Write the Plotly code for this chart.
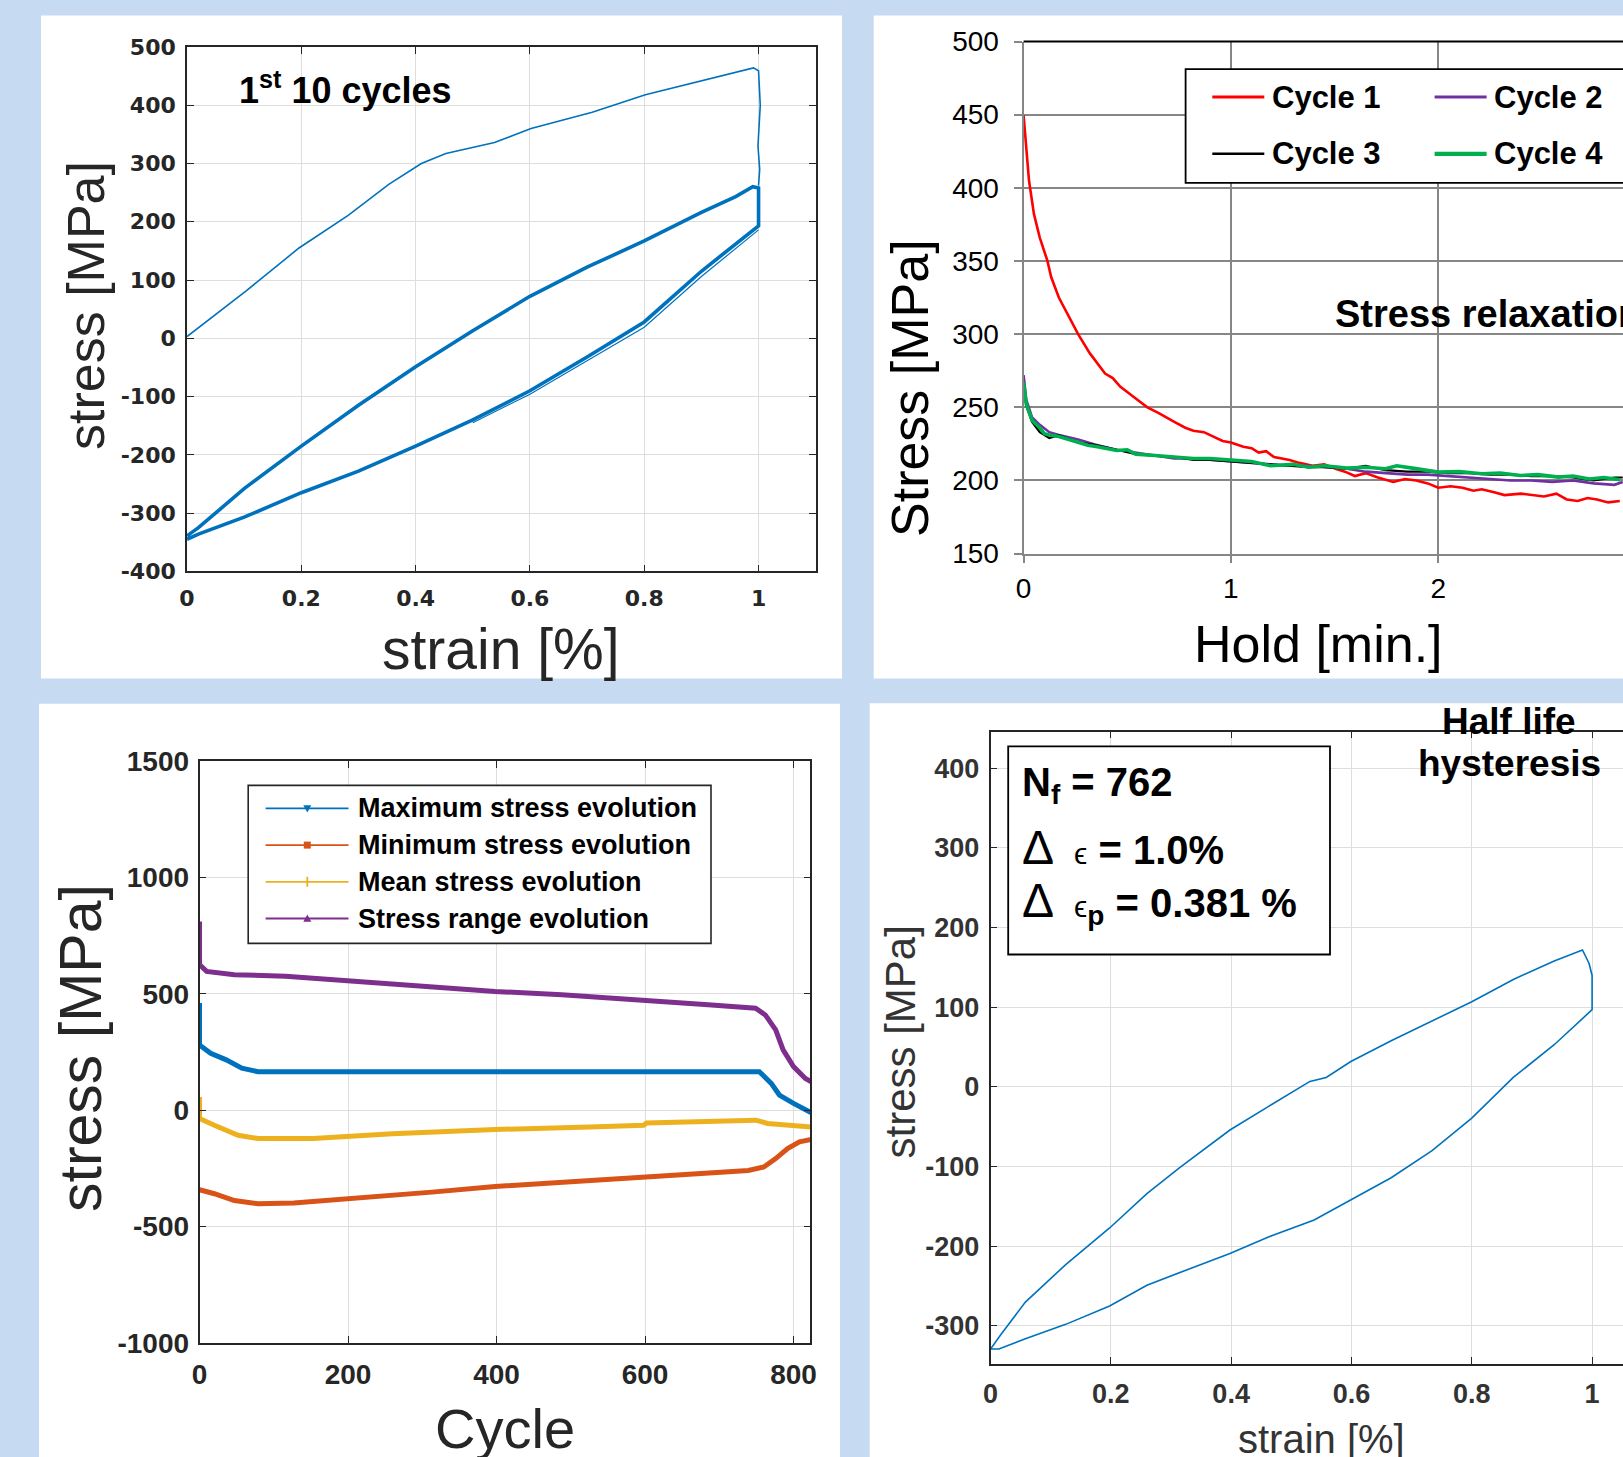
import plotly.graph_objects as go

W, H = 1623, 1457
BG = "#C6DBF2"
ARIAL = "Liberation Sans, Arial, sans-serif"
DEJAVU = "DejaVu Sans, sans-serif"

# ---------------- data ----------------
# Top-left: first 10 cycles (strain %, stress MPa)
tl_init_strain = [0, 0.068, 0.103, 0.196, 0.282, 0.353, 0.41, 0.453, 0.538, 0.602, 0.709, 0.802, 0.88, 0.959, 0.991, 1.0, 1.003, 0.999, 1.002, 1.0]
tl_init_stress = [3, 54, 81, 155, 211, 264, 300, 317, 336, 360, 388, 418, 437, 456, 464, 459, 400, 330, 290, 262]
tl_loop_strain = [0, 0.02, 0.1, 0.2, 0.3, 0.4, 0.5, 0.6, 0.7, 0.8, 0.9, 0.96, 0.99, 1.0, 1.0, 1.0, 0.9, 0.8, 0.7, 0.6, 0.5, 0.4, 0.3, 0.2, 0.1, 0.02, 0]
tl_loop_stress = [-339, -325, -258, -185, -115, -49, 13, 72, 122, 167, 216, 243, 260, 258, 225, 193, 115, 28, -32, -90, -140, -185, -228, -265, -307, -336, -345]
tl_strand_strain = [1.0, 0.9, 0.8, 0.7, 0.6, 0.5]
tl_strand_stress = [186, 106, 19, -39, -96, -145]

# Top-right: stress relaxation during hold (min, MPa)
tr_t1 = [0, 0.013, 0.026, 0.05, 0.078, 0.115, 0.133, 0.17, 0.217, 0.263, 0.319, 0.393, 0.43, 0.467, 0.541, 0.597, 0.652, 0.7, 0.727, 0.78, 0.819, 0.87, 0.912, 0.96, 1.0, 1.06, 1.1, 1.134, 1.17, 1.208, 1.283, 1.33, 1.394, 1.45, 1.505, 1.55, 1.598, 1.65, 1.709, 1.783, 1.84, 1.894, 1.95, 2.0, 2.06, 2.117, 2.17, 2.21, 2.27, 2.32, 2.4, 2.45, 2.51, 2.57, 2.62, 2.673, 2.72, 2.766, 2.82, 2.876]
tr_s1 = [449.5, 425.6, 405, 382, 366, 350, 339, 325, 312, 300, 287, 273, 270, 264, 256, 250, 246, 242, 240, 236, 234, 233, 230, 227, 226, 223, 222, 219, 220, 216, 214, 212, 210, 211, 208, 206, 203, 205, 202, 199, 201, 200, 198, 195, 196, 195, 193, 194, 192, 190, 191, 190, 189, 191, 187, 186, 188, 187, 185, 186]
tr_t2 = [0, 0.013, 0.041, 0.078, 0.124, 0.17, 0.263, 0.356, 0.449, 0.541, 0.634, 0.727, 0.819, 0.9, 1.0, 1.1, 1.19, 1.3, 1.375, 1.45, 1.56, 1.65, 1.746, 1.85, 1.95, 2.05, 2.15, 2.25, 2.35, 2.45, 2.55, 2.65, 2.75, 2.85, 2.89]
tr_s2 = [272, 255, 243, 238, 233, 231, 228, 224, 221, 219, 217, 215, 215, 214, 213, 212, 211, 210, 210, 209, 208, 206, 205, 204, 204, 203, 202, 201, 200, 200, 199, 200, 198, 197, 199]
tr_t3 = [0, 0.013, 0.041, 0.078, 0.124, 0.17, 0.263, 0.356, 0.449, 0.541, 0.634, 0.727, 0.819, 0.9, 1.0, 1.1, 1.19, 1.3, 1.375, 1.45, 1.56, 1.65, 1.746, 1.85, 1.95, 2.05, 2.15, 2.25, 2.35, 2.45, 2.55, 2.65, 2.75, 2.85, 2.89]
tr_s3 = [264, 251, 240, 233, 229, 231, 226, 224, 221, 218, 217, 216, 214, 214, 213, 212, 211, 210, 209, 209, 208, 210, 207, 206, 206, 205, 205, 204, 204, 203, 203, 202, 200, 202, 202]
tr_t4 = [0, 0.013, 0.041, 0.078, 0.1, 0.124, 0.17, 0.22, 0.263, 0.31, 0.356, 0.4, 0.449, 0.5, 0.541, 0.634, 0.727, 0.819, 0.9, 1.0, 1.1, 1.19, 1.3, 1.375, 1.45, 1.56, 1.65, 1.746, 1.8, 1.876, 1.95, 2.0, 2.1, 2.21, 2.3, 2.396, 2.48, 2.58, 2.65, 2.73, 2.8, 2.877]
tr_s4 = [267, 252, 241, 236, 232, 231, 230, 228, 226, 224, 223, 222, 220.5, 221, 218, 217, 216, 215, 215, 214, 213, 210, 211, 209, 210, 208.4, 209, 208, 210, 208.4, 207, 205.7, 206, 204.6, 205, 203.4, 204, 202.3, 203, 201, 202, 200.5]

# Bottom-left: stress evolution vs cycle
bl_cyc_max = [0, 0, 15, 36, 57, 79, 200, 400, 600, 754, 770, 781, 800, 816, 824]
bl_max = [460, 280, 244, 216, 180, 165, 165, 166, 165, 165, 115, 65, 29, 0, -11]
bl_cyc_min = [0, 20, 47, 79, 127, 206, 313, 398, 526, 600, 685, 739, 760, 776, 792, 808, 824]
bl_min = [-342, -359, -388, -402, -399, -381, -352, -328, -302, -287, -273, -259, -244, -208, -165, -136, -126]
bl_cyc_mean = [0, 0, 20, 52, 79, 153, 260, 398, 526, 598, 602, 712, 749, 765, 824]
bl_mean = [57, -36, -65, -108, -122, -122, -101, -83, -72, -65, -55, -46, -43, -57, -72]
bl_cyc_range = [0, 0, 9.6, 47, 116, 206, 313, 398, 488, 600, 685, 749, 762, 776, 786, 800, 816, 824]
bl_range = [810, 625, 596, 582, 575, 553, 532, 510, 496, 474, 453, 438, 409, 345, 259, 187, 136, 122]
bl_names = ["Maximum stress evolution", "Minimum stress evolution", "Mean stress evolution", "Stress range evolution"]

# Bottom-right: half life hysteresis
br_strain = [0, 0.017, 0.058, 0.125, 0.198, 0.26, 0.315, 0.398, 0.463, 0.531, 0.558, 0.599, 0.666, 0.734, 0.8, 0.869, 0.937, 0.984, 0.995, 1.0, 1.0,
             0.937, 0.869, 0.8, 0.734, 0.666, 0.599, 0.538, 0.463, 0.398, 0.328, 0.26, 0.198, 0.125, 0.058, 0.014, 0]
br_stress = [-329, -311, -270, -223, -177, -134, -101, -54, -24, 7, 12, 32, 58, 83, 107, 135, 158, 172, 155, 140, 97,
             53, 12, -39, -80, -114, -142, -167, -188, -209, -229, -249, -275, -298, -316, -329, -329]

# tick values / labels
tl_xticks = [0, 0.2, 0.4, 0.6, 0.8, 1]
tl_xlabels = ["0", "0.2", "0.4", "0.6", "0.8", "1"]
tl_yticks = [-400, -300, -200, -100, 0, 100, 200, 300, 400, 500]
tl_ylabels = ["-400", "-300", "-200", "-100", "0", "100", "200", "300", "400", "500"]
bl_xticks = [0, 200, 400, 600, 800]
bl_yticks = [-1000, -500, 0, 500, 1000, 1500]
bl_ylabels = ["-1000", "-500", "0", "500", "1000", "1500"]
br_xticks = [0, 0.2, 0.4, 0.6, 0.8, 1]
br_xlabels = ["0", "0.2", "0.4", "0.6", "0.8", "1"]
br_yticks = [-300, -200, -100, 0, 100, 200, 300, 400]
br_ylabels = ["-300", "-200", "-100", "0", "100", "200", "300", "400"]

# ---------------- helpers ----------------
def px(x):
    return x / W

def py(y):
    return 1 - y / H

fig = go.Figure()
BLUE = "#0072BD"

fig.add_trace(go.Scatter(x=tl_init_strain, y=tl_init_stress, mode="lines", line=dict(color=BLUE, width=1.6), xaxis="x", yaxis="y", showlegend=False))
fig.add_trace(go.Scatter(x=tl_loop_strain, y=tl_loop_stress, mode="lines", line=dict(color=BLUE, width=3.6), xaxis="x", yaxis="y", showlegend=False))
fig.add_trace(go.Scatter(x=tl_strand_strain, y=tl_strand_stress, mode="lines", line=dict(color=BLUE, width=1.2), xaxis="x", yaxis="y", showlegend=False))

tr_series = [(tr_t1, tr_s1, "Cycle 1", "#FF0000", 2.6), (tr_t2, tr_s2, "Cycle 2", "#7030A0", 2.6),
             (tr_t3, tr_s3, "Cycle 3", "#000000", 2.2), (tr_t4, tr_s4, "Cycle 4", "#00B050", 3.6)]
for t, s, n, c, w in tr_series:
    fig.add_trace(go.Scatter(x=t, y=s, mode="lines", name=n, line=dict(color=c, width=w), xaxis="x2", yaxis="y2", showlegend=False))

bl_series = [(bl_cyc_max, bl_max, "#0072BD"), (bl_cyc_min, bl_min, "#D95319"),
             (bl_cyc_mean, bl_mean, "#EDB120"), (bl_cyc_range, bl_range, "#7E2F8E")]
for (cx, cy, c), n in zip(bl_series, bl_names):
    fig.add_trace(go.Scatter(x=cx, y=cy, mode="lines", name=n, line=dict(color=c, width=5), xaxis="x3", yaxis="y3", showlegend=False))

fig.add_trace(go.Scatter(x=br_strain, y=br_stress, mode="lines", line=dict(color=BLUE, width=1.6), xaxis="x4", yaxis="y4", showlegend=False))

# ---------------- axes ----------------
ML = "#262626"
GRID = "#DEDEDE"

def matlab_axis(font_family, size, color, standoff, mirror="ticks"):
    return dict(showline=True, linecolor=ML, linewidth=1.6, mirror=mirror, ticks="inside", ticklen=7,
                tickcolor=ML, tickwidth=1.2, showgrid=True, gridcolor=GRID, gridwidth=1.3, zeroline=False,
                tickfont=dict(family=font_family, size=size, color=color, weight="bold"),
                ticklabelstandoff=standoff, fixedrange=True, automargin=False, tickmode="array")

xa1 = matlab_axis(DEJAVU, 22, ML, 6)
xa1.update(domain=[px(187), px(815.7)], range=[0, 1.1], tickvals=tl_xticks, ticktext=tl_xlabels, anchor="y")
ya1 = matlab_axis(DEJAVU, 22, ML, 5)
ya1.update(domain=[py(571.4), py(46.9)], range=[-400, 500], tickvals=tl_yticks, ticktext=tl_ylabels, anchor="x")

GR = "#868686"
xa2 = dict(domain=[px(1023.6), 1], range=[0, (W - 1023.6) / 207.3], dtick=1, tick0=0, anchor="y2",
           showline=True, linecolor=GR, linewidth=2.2, ticks="outside", ticklen=7, tickcolor=GR, tickwidth=2,
           showgrid=True, gridcolor=GR, gridwidth=1.8, zeroline=False, automargin=False,
           tickfont=dict(family=ARIAL, size=28, color="#000000"), ticklabelstandoff=2, fixedrange=True)
ya2 = dict(domain=[py(553.6), py(41.5)], range=[150, 500], dtick=50, tick0=0, anchor="x2",
           showline=True, linecolor=GR, linewidth=2.2, ticks="outside", ticklen=8, tickcolor=GR, tickwidth=2,
           showgrid=True, gridcolor=GR, gridwidth=1.8, zeroline=False, automargin=False,
           tickfont=dict(family=ARIAL, size=28, color="#000000"), ticklabelstandoff=9, fixedrange=True)

xa3 = matlab_axis(ARIAL, 28, ML, 6)
xa3.update(domain=[px(199.5), px(810.3)], range=[0, 822.6], tickvals=bl_xticks, anchor="y3")
ya3 = matlab_axis(ARIAL, 28, ML, 3)
ya3.update(domain=[py(1343), py(760.9)], range=[-1000, 1500], tickvals=bl_yticks, ticktext=bl_ylabels, anchor="x3")

xa4 = matlab_axis(ARIAL, 27, "#333333", 5)
xa4.update(domain=[px(990.5), 1], range=[0, (W - 990.5) / 601.6], tickvals=br_xticks, ticktext=br_xlabels, anchor="y4")
ya4 = matlab_axis(ARIAL, 27, "#333333", 4, mirror=False)
ya4.update(domain=[py(1364.2), py(731.6)], range=[-348, 446.1], tickvals=br_yticks, ticktext=br_ylabels, anchor="x4")

# ---------------- shapes ----------------
shapes = []
for x0, y0, x1, y1 in [(41, 15.6, 842, 678.6), (873.7, 15.6, W, 678.6), (39, 703.7, 840, H), (869.7, 703.2, W, H)]:
    shapes.append(dict(type="rect", xref="paper", yref="paper", x0=px(x0), x1=px(x1), y0=py(y1), y1=py(y0),
                       fillcolor="white", line=dict(width=0), layer="below"))

# TR top border
shapes.append(dict(type="line", xref="x2 domain", yref="y2 domain", x0=0, x1=1, y0=1, y1=1, line=dict(color="#000000", width=2)))

# TR legend box and sample lines
shapes.append(dict(type="rect", xref="paper", yref="paper", x0=px(1185.6), x1=px(1660), y0=py(182.8), y1=py(69.2),
                   fillcolor="white", line=dict(color="#000000", width=1.8)))
leg_tr = [("Cycle 1", "#FF0000", 2.8, 1212.3, 97.0), ("Cycle 2", "#7030A0", 3.0, 1434.6, 97.0),
          ("Cycle 3", "#000000", 2.4, 1212.3, 153.8), ("Cycle 4", "#00B050", 4.2, 1434.6, 153.8)]
annotations = []
for name, col, w, lx, ly in leg_tr:
    shapes.append(dict(type="line", xref="paper", yref="paper", x0=px(lx), x1=px(lx + 52), y0=py(ly), y1=py(ly),
                       line=dict(color=col, width=w)))
    annotations.append(dict(text=name, xref="paper", yref="paper", x=px(lx + 57.5), y=py(ly), xanchor="left", yanchor="middle",
                            showarrow=False, font=dict(family=ARIAL, size=31, color="#000000", weight="bold")))

# BL legend
shapes.append(dict(type="rect", xref="paper", yref="paper", x0=px(248.2), x1=px(711), y0=py(943.4), y1=py(785.4),
                   fillcolor="white", line=dict(color=ML, width=1.6)))
bl_rows = [808.4, 845.1, 881.8, 918.5]
bl_cols = ["#0072BD", "#D95319", "#EDB120", "#7E2F8E"]
mx = 307.3
for (name, col, ry) in zip(bl_names, bl_cols, bl_rows):
    shapes.append(dict(type="line", xref="paper", yref="paper", x0=px(265.6), x1=px(348.5), y0=py(ry), y1=py(ry),
                       line=dict(color=col, width=1.8)))
    annotations.append(dict(text=name, xref="paper", yref="paper", x=px(356), y=py(ry), xanchor="left", yanchor="middle",
                            showarrow=False, font=dict(family=ARIAL, size=27, color="#000000", weight="bold")))

def tri(cx, cy, s, down):
    if down:
        pts = [(cx - s, cy - s * 0.8), (cx + s, cy - s * 0.8), (cx, cy + s)]
    else:
        pts = [(cx - s, cy + s * 0.8), (cx + s, cy + s * 0.8), (cx, cy - s)]
    return "M " + " L ".join(f"{px(a):.6f},{py(b):.6f}" for a, b in pts) + " Z"

shapes.append(dict(type="path", xref="paper", yref="paper", path=tri(mx, bl_rows[0], 4, True), fillcolor=bl_cols[0], line=dict(width=0)))
shapes.append(dict(type="rect", xref="paper", yref="paper", x0=px(mx - 3.5), x1=px(mx + 3.5), y0=py(bl_rows[1] + 3.5), y1=py(bl_rows[1] - 3.5),
                   fillcolor=bl_cols[1], line=dict(width=0)))
shapes.append(dict(type="line", xref="paper", yref="paper", x0=px(mx), x1=px(mx), y0=py(bl_rows[2] + 5), y1=py(bl_rows[2] - 5),
                   line=dict(color=bl_cols[2], width=1.8)))
shapes.append(dict(type="path", xref="paper", yref="paper", path=tri(mx, bl_rows[3], 4, False), fillcolor=bl_cols[3], line=dict(width=0)))

# BR text box
shapes.append(dict(type="rect", xref="paper", yref="paper", x0=px(1008.2), x1=px(1330), y0=py(954.5), y1=py(746.3),
                   fillcolor="white", line=dict(color="#000000", width=1.8)))

# ---------------- text ----------------
def ann(text, x, y, size, family=ARIAL, color="#000000", bold=False, angle=0, xanchor="center", yanchor="middle"):
    annotations.append(dict(text=text, xref="paper", yref="paper", x=px(x), y=py(y), xanchor=xanchor, yanchor=yanchor,
                            showarrow=False, textangle=angle,
                            font=dict(family=family, size=size, color=color, weight="bold" if bold else "normal")))

# TL
ann("1<sup>st</sup> 10 cycles", 237, 88, 36, bold=True, xanchor="left")
ann("strain [%]", 501, 649, 57, color=ML)
ann("stress [MPa]", 86, 306, 52, color=ML, angle=-90)
# TR
ann("Stress [MPa]", 910, 388, 52, angle=-90)
ann("Hold [min.]", 1318, 644, 52)
ann("Stress relaxation", 1333, 314, 38, bold=True, xanchor="left")
# BL
ann("stress [MPa]", 81, 1048, 59, color=ML, angle=-90)
ann("Cycle", 504.6, 1428, 56, color=ML)
# BR
ann("stress [MPa]", 899.5, 1042, 42, color="#333333", angle=-90)
ann("strain [%]", 1321, 1439, 40, color="#333333")
ann("Half life", 1509, 721, 37, bold=True)
ann("hysteresis", 1509, 763, 37, bold=True)
ann("<b>N<sub>f</sub> = 762</b>", 1020, 785, 40, xanchor="left")
DELTA = "<span style='font-size:48px'>\u0394</span>\u2002<span style='font-size:30px'>\u03f5</span>"
ann(DELTA + "<b> = 1.0%</b>", 1020, 847, 40, xanchor="left")
ann(DELTA + "<b><sub>p</sub> = 0.381 %</b>", 1020, 903, 40, xanchor="left")

fig.update_layout(
    width=W, height=H, autosize=False,
    margin=dict(l=0, r=0, t=0, b=0, pad=0, autoexpand=False),
    paper_bgcolor=BG, plot_bgcolor="white",
    xaxis=xa1, yaxis=ya1, xaxis2=xa2, yaxis2=ya2, xaxis3=xa3, yaxis3=ya3, xaxis4=xa4, yaxis4=ya4,
    shapes=shapes, annotations=annotations, showlegend=False,
)

fig.write_html("out.html", config={"displayModeBar": False},
               post_script="document.body.style.margin='0px';document.body.style.background='" + BG + "';")
